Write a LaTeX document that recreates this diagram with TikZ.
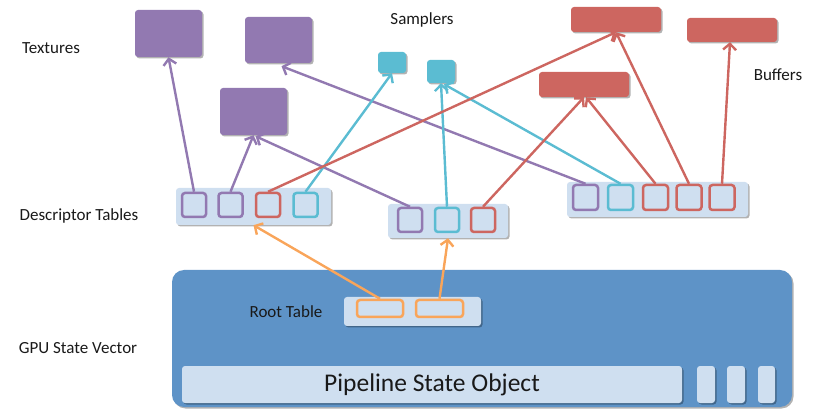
\documentclass[tikz,border=0pt]{standalone}
\usepackage{fontspec}
\setmainfont{Carlito}
\usetikzlibrary{arrows.meta,shadows}

\definecolor{texpurple}{RGB}{146,121,177}
\definecolor{sampcyan}{RGB}{91,188,210}
\definecolor{bufred}{RGB}{205,102,96}
\definecolor{rootorange}{RGB}{249,165,90}
\definecolor{panelblue}{RGB}{207,223,240}
\definecolor{statebox}{RGB}{94,147,199}
\definecolor{labeltext}{RGB}{25,25,25}

\tikzset{
  softshadow/.style={drop shadow={shadow xshift=1.5pt,shadow yshift=-1.5pt,opacity=0.3,fill=black}},
  resource/.style={rectangle,rounded corners=3pt,inner sep=0pt,draw=none,softshadow},
  texbox/.style={resource,fill=texpurple,minimum width=67pt,minimum height=47pt},
  sampbox/.style={resource,fill=sampcyan,minimum width=28pt,minimum height=22pt},
  bufbox/.style={resource,fill=bufred,minimum width=90pt,minimum height=25pt},
  panel/.style={rectangle,rounded corners=3pt,inner sep=0pt,fill=panelblue,softshadow},
  slot/.style={rectangle,rounded corners=3pt,inner sep=0pt,line width=2.5pt,fill=panelblue,
    minimum width=24pt,minimum height=24pt},
  link/.style={line width=2.4pt,-{Straight Barb[length=6pt,width=13pt,line width=2.4pt]}},
  lbl/.style={font=\fontsize{17pt}{19pt}\selectfont,text=labeltext,inner sep=0pt},
}

\begin{document}
\begin{tikzpicture}[x=1pt,y=-1pt]
\useasboundingbox (0,0) rectangle (816,411);

% labels
\node[lbl] (lTex) at (51,48) {Textures};
\node[lbl] (lSamp) at (422,20) {Samplers};
\node[lbl] (lBuf) at (778,75) {Buffers};
\node[lbl] (lDesc) at (79,216) {Descriptor Tables};
\node[lbl] (lGpu) at (78,348) {GPU State Vector};

% textures
\node[texbox] (T1) at (168.5,33.5) {};
\node[texbox,minimum height=46pt] (T2) at (278.5,40) {};
\node[texbox] (T3) at (253.5,111.5) {};

% samplers
\node[sampbox,minimum height=21pt] (S1) at (392,62.5) {};
\node[sampbox,minimum height=23pt] (S2) at (441,71.5) {};

% buffers
\node[bufbox] (B1) at (616,19.5) {};
\node[bufbox,minimum height=24pt] (B2) at (732,30) {};
\node[bufbox] (B3) at (584,84.5) {};

% descriptor table 1
\node[panel,minimum width=155pt,minimum height=37pt] (D1) at (253.5,206.5) {};
\node[slot,draw=texpurple] (d1a) at (194,205) {};
\node[slot,draw=texpurple] (d1b) at (230.5,205) {};
\node[slot,draw=bufred] (d1c) at (268,205) {};
\node[slot,draw=sampcyan] (d1d) at (305.5,205) {};

% descriptor table 2
\node[panel,minimum width=120pt,minimum height=34pt] (D2) at (448,221) {};
\node[slot,draw=texpurple] (d2a) at (410,220) {};
\node[slot,draw=sampcyan] (d2b) at (447,220) {};
\node[slot,draw=bufred] (d2c) at (483,220) {};

% descriptor table 3
\node[panel,minimum width=181pt,minimum height=35pt] (D3) at (657.5,199.5) {};
\node[slot,draw=texpurple,minimum width=25pt,minimum height=25pt] (d3a) at (585.5,197.5) {};
\node[slot,draw=sampcyan,minimum width=25pt,minimum height=25pt] (d3b) at (620.5,197.5) {};
\node[slot,draw=bufred,minimum width=25pt,minimum height=25pt] (d3c) at (655.5,197.5) {};
\node[slot,draw=bufred,minimum width=25pt,minimum height=25pt] (d3d) at (689,197.5) {};
\node[slot,draw=bufred,minimum width=25pt,minimum height=25pt] (d3e) at (722,197.5) {};

% GPU state vector
\node[rectangle,rounded corners=12pt,fill=statebox,inner sep=0pt,softshadow,
  minimum width=620pt,minimum height=137pt] (GPU) at (482,338.5) {};
\node[panel,minimum width=137pt,minimum height=29pt] (R) at (412.5,311.5) {};
\node[lbl] (lRoot) at (286,312) {Root Table};
\node[slot,draw=rootorange,minimum width=46pt,minimum height=17pt] (r1) at (380,308.5) {};
\node[slot,draw=rootorange,minimum width=47pt,minimum height=17pt] (r2) at (439.5,308.5) {};
\node[panel,minimum width=500pt,minimum height=37pt,
  font=\fontsize{25.5pt}{28pt}\selectfont,text=labeltext] (PSO) at (432,384.5) {Pipeline State Object};
\node[panel,minimum width=18pt,minimum height=37pt] (st1) at (706,384.5) {};
\node[panel,minimum width=18pt,minimum height=37pt] (st2) at (736,384.5) {};
\node[panel,minimum width=17pt,minimum height=37pt] (st3) at (766.5,384.5) {};

% texture links
\draw[link,texpurple] (d1a.north) -- (T1.south);
\draw[link,texpurple] (d1b.north) -- (T3.south);
\draw[link,texpurple] (d2a.north) -- ([xshift=2pt,yshift=-1pt]T3.south);
\draw[link,texpurple] (d3a.north) -- ([xshift=3pt,yshift=-3pt]T2.south);

% sampler links
\draw[link,sampcyan] (d1d.north) -- (S1.south);
\draw[link,sampcyan] (d2b.north) -- (S2.south);
\draw[link,sampcyan] (d3b.north) -- ([xshift=3pt,yshift=-1pt]S2.south);

% buffer links
\draw[link,bufred] (d1c.north) -- (B1.south);
\draw[link,bufred] (d3d.north) -- (B1.south);
\draw[link,bufred] (d2c.north) -- (B3.south);
\draw[link,bufred] (d3c.north) -- ([xshift=2pt]B3.south);
\draw[link,bufred] (d3e.north) -- ([xshift=-2pt]B2.south);

% root table links
\draw[link,rootorange] (r1.north) -- (D1.south);
\draw[link,rootorange] (r2.north) -- (D2.south);
\end{tikzpicture}
\end{document}
